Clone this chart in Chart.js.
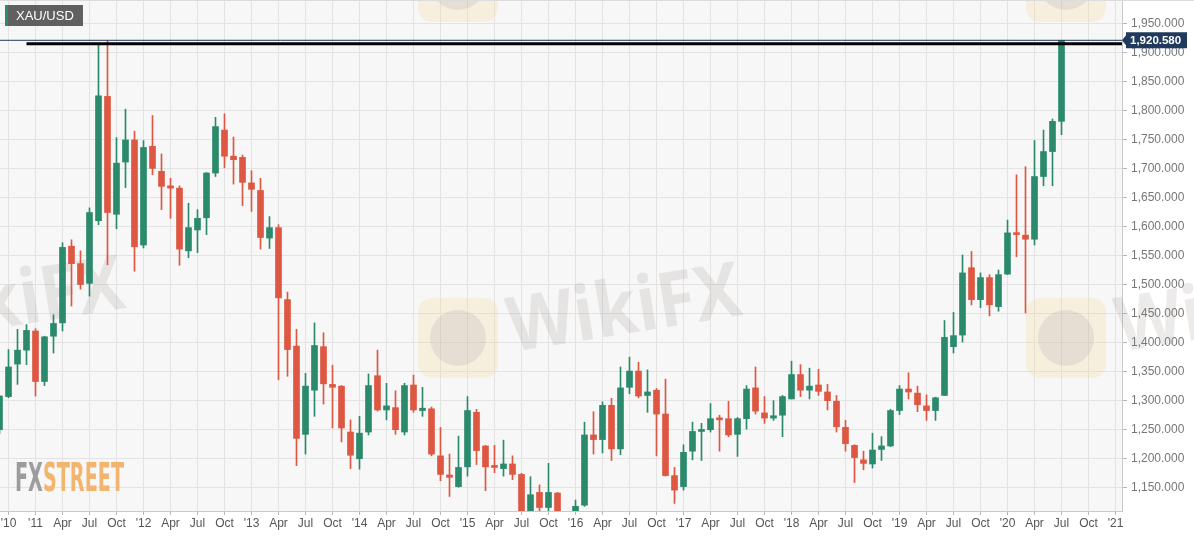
<!DOCTYPE html>
<html>
<head>
<meta charset="utf-8">
<title>XAU/USD monthly</title>
<script src="https://cdn.jsdelivr.net/npm/chart.js@4.4.1/dist/chart.umd.min.js"></script>
<style>
  html, body { margin: 0; padding: 0; background: #fff; }
  #wrap { position: relative; width: 1194px; height: 536px; }
</style>
</head>
<body>
<div id="wrap"><canvas id="chart" width="1194" height="536"></canvas></div>
<script>
/* ── data: monthly XAU/USD candles, Sep 2010 → Jul 2020 ── */
// month index counted from Jan 2011 = 0
const firstMonth = -4;

const opens = [
  1250, 1307, 1363, 1387,
  1420, 1333, 1411, 1434, 1566, 1536, 1502, 1610, 1824, 1621, 1711, 1749,
  1568, 1738, 1695, 1670, 1666, 1558, 1594, 1615, 1692, 1766, 1721, 1719,
  1675, 1662, 1580, 1598, 1474, 1394, 1242, 1318, 1393, 1328, 1325, 1246,
  1200, 1246, 1343, 1284, 1288, 1246, 1327, 1283, 1286, 1205, 1172, 1152,
  1186, 1280, 1222, 1187, 1183, 1191, 1173, 1095, 1142, 1116, 1141, 1065,
  1061, 1120, 1241, 1233, 1292, 1217, 1323, 1351, 1309, 1318, 1277, 1171,
  1152, 1213, 1247, 1250, 1269, 1269, 1242, 1269, 1322, 1279, 1270, 1275,
  1303, 1345, 1318, 1327, 1315, 1299, 1254, 1223, 1198, 1191, 1216, 1222,
  1283, 1320, 1313, 1291, 1283, 1309, 1393, 1413, 1529, 1474, 1512, 1462,
  1518, 1589, 1585, 1578, 1686, 1729, 1781
];
const highs = [
  1309, 1388, 1423, 1431,
  1424, 1411, 1448, 1572, 1577, 1558, 1632, 1912, 1920, 1753, 1802, 1764,
  1748, 1791, 1725, 1683, 1670, 1640, 1629, 1693, 1788, 1794, 1754, 1723,
  1696, 1683, 1617, 1603, 1487, 1423, 1347, 1434, 1417, 1361, 1326, 1267,
  1273, 1346, 1387, 1330, 1317, 1330, 1344, 1323, 1289, 1254, 1208, 1239,
  1307, 1285, 1223, 1223, 1232, 1205, 1175, 1169, 1155, 1192, 1142, 1088,
  1129, 1263, 1281, 1298, 1304, 1358, 1375, 1366, 1353, 1321, 1337, 1185,
  1224, 1263, 1261, 1295, 1275, 1299, 1271, 1326, 1358, 1307, 1300, 1309,
  1368, 1362, 1356, 1354, 1328, 1309, 1266, 1224, 1213, 1244, 1238, 1285,
  1326, 1348, 1325, 1310, 1306, 1438, 1452, 1551, 1557, 1520, 1517, 1525,
  1611, 1689, 1703, 1748, 1766, 1785, 1920.58
];
const lows = [
  1243, 1305, 1328, 1362,
  1308, 1326, 1382, 1420, 1463, 1492, 1480, 1603, 1534, 1596, 1667, 1523,
  1563, 1689, 1629, 1614, 1533, 1546, 1555, 1586, 1686, 1701, 1673, 1636,
  1626, 1561, 1562, 1336, 1342, 1188, 1208, 1273, 1294, 1253, 1229, 1183,
  1182, 1241, 1282, 1267, 1242, 1241, 1280, 1273, 1205, 1162, 1135, 1151,
  1170, 1190, 1145, 1176, 1170, 1164, 1077, 1077, 1098, 1098, 1046, 1046,
  1060, 1118, 1208, 1210, 1197, 1207, 1312, 1305, 1280, 1205, 1170, 1123,
  1146, 1198, 1197, 1246, 1213, 1238, 1204, 1251, 1277, 1261, 1266, 1238,
  1303, 1307, 1303, 1309, 1284, 1246, 1213, 1159, 1181, 1184, 1197, 1221,
  1276, 1303, 1281, 1266, 1266, 1309, 1382, 1401, 1465, 1460, 1446, 1454,
  1517, 1548, 1451, 1568, 1670, 1670, 1758
];
const closes = [
  1308, 1358, 1387, 1421,
  1333, 1410, 1433, 1564, 1536, 1500, 1624, 1825, 1624, 1709, 1749, 1565,
  1736, 1700, 1669, 1666, 1561, 1598, 1614, 1692, 1772, 1721, 1715, 1676,
  1664, 1581, 1598, 1477, 1388, 1235, 1325, 1395, 1329, 1323, 1253, 1206,
  1244, 1326, 1284, 1291, 1250, 1326, 1284, 1287, 1208, 1173, 1168, 1185,
  1283, 1214, 1186, 1185, 1191, 1173, 1095, 1138, 1116, 1142, 1065, 1061,
  1118, 1241, 1233, 1292, 1217, 1322, 1351, 1308, 1315, 1277, 1171, 1146,
  1211, 1247, 1250, 1269, 1267, 1241, 1269, 1320, 1282, 1270, 1274, 1307,
  1345, 1318, 1325, 1316, 1300, 1255, 1226, 1202, 1192, 1215, 1222, 1283,
  1320, 1315, 1293, 1283, 1305, 1409, 1412, 1520, 1474, 1512, 1465, 1517,
  1589, 1586, 1578, 1686, 1729, 1781, 1920.58
];

// x-axis labels, one every 3 months starting Oct 2010
const xTickLabels = [
  "'10",
  "'11", 'Apr', 'Jul', 'Oct', "'12", 'Apr', 'Jul', 'Oct',
  "'13", 'Apr', 'Jul', 'Oct', "'14", 'Apr', 'Jul', 'Oct',
  "'15", 'Apr', 'Jul', 'Oct', "'16", 'Apr', 'Jul', 'Oct',
  "'17", 'Apr', 'Jul', 'Oct', "'18", 'Apr', 'Jul', 'Oct',
  "'19", 'Apr', 'Jul', 'Oct', "'20", 'Apr', 'Jul', 'Oct',
  "'21"
];
const firstTickMonth = -3;

const lastPrice = 1920.58;
const resistanceLevel = 1914.6;
const resistanceFrom = -1;          // Dec 2010

const X_MIN = -3.944, X_MAX = 120.722;
const Y_MIN = 1110, Y_MAX = 1990;

const GREEN = '#2c8a6c';
const RED   = '#de5742';

const months = opens.map((_, i) => firstMonth + i);
const candleColor = ctx => closes[ctx.dataIndex] >= opens[ctx.dataIndex] ? GREEN : RED;

/* ── decorations ── */
function roundRect(ctx, x, y, w, h, r) {
  ctx.beginPath();
  ctx.moveTo(x + r, y);
  ctx.arcTo(x + w, y, x + w, y + h, r);
  ctx.arcTo(x + w, y + h, x, y + h, r);
  ctx.arcTo(x, y + h, x, y, r);
  ctx.arcTo(x, y, x + w, y, r);
  ctx.closePath();
}

function wikiLogo(ctx, cx, cy) {
  ctx.save();
  ctx.fillStyle = 'rgba(245,215,130,0.22)';
  roundRect(ctx, cx - 40, cy - 40, 80, 80, 14);
  ctx.fill();
  ctx.fillStyle = 'rgba(150,135,155,0.16)';
  ctx.beginPath();
  ctx.arc(cx, cy, 28, 0, Math.PI * 2);
  ctx.fill();
  ctx.restore();
}

function wikiText(ctx, x, y) {
  ctx.save();
  ctx.translate(x, y);
  ctx.rotate(-0.16);
  ctx.font = 'bold 76px "Open Sans", sans-serif';
  const w = ctx.measureText('WikiFX').width;
  ctx.scale(235 / w, 1);
  ctx.fillStyle = 'rgba(150,130,130,0.17)';
  ctx.textBaseline = 'alphabetic';
  ctx.fillText('WikiFX', 0, 0);
  ctx.restore();
}

const chrome = {
  id: 'chrome',
  beforeDraw(chart) {
    const { ctx, chartArea: a } = chart;
    ctx.save();
    ctx.fillStyle = '#ffffff';
    ctx.fillRect(0, 0, chart.width, chart.height);
    ctx.fillStyle = '#f7f7f7';
    ctx.fillRect(a.left, a.top, a.right - a.left, a.bottom - a.top);
    ctx.restore();
  },
  beforeDatasetsDraw(chart) {
    const { ctx } = chart;
    ctx.save();
    wikiLogo(ctx, 458, -18);
    wikiLogo(ctx, 1066, -18);
    wikiLogo(ctx, 458, 338);
    wikiLogo(ctx, 1066, 338);
    wikiText(ctx, -105, 345);
    wikiText(ctx, 512, 352);
    wikiText(ctx, 1120, 352);
    ctx.restore();
  },
  afterDraw(chart) {
    const { ctx } = chart;
    const y = chart.scales.y.getPixelForValue(lastPrice);
    const ax = chart.chartArea.right;
    ctx.save();

    // last price tag
    ctx.fillStyle = '#1f3a5c';
    ctx.beginPath();
    ctx.moveTo(ax, y);
    ctx.lineTo(ax + 4, y - 5);
    ctx.lineTo(ax + 4, y - 8);
    ctx.lineTo(ax + 65, y - 8);
    ctx.lineTo(ax + 65, y + 8);
    ctx.lineTo(ax + 4, y + 8);
    ctx.lineTo(ax + 4, y + 5);
    ctx.closePath();
    ctx.fill();
    ctx.fillStyle = '#ffffff';
    ctx.font = 'bold 11.5px "Liberation Sans", Arial, sans-serif';
    ctx.textBaseline = 'middle';
    ctx.textAlign = 'left';
    ctx.fillText(lastPrice.toLocaleString('en-US', { minimumFractionDigits: 3 }), ax + 8, y + 0.5);

    // symbol badge
    ctx.fillStyle = '#606060';
    ctx.fillRect(5, 5, 78, 21);
    ctx.fillStyle = GREEN;
    ctx.fillRect(5, 5, 3, 21);
    ctx.fillStyle = '#ffffff';
    ctx.font = '13px "Liberation Sans", Arial, sans-serif';
    ctx.fillText('XAU/USD', 16, 16);

    // FXSTREET mark
    ctx.font = 'bold 39px "DejaVu Sans Condensed", "DejaVu Sans", sans-serif';
    ctx.textBaseline = 'alphabetic';
    const wFx = ctx.measureText('FX').width;
    const wAll = ctx.measureText('FXSTREET').width;
    ctx.translate(15, 491);
    ctx.scale(109 / wAll, 1);
    ctx.fillStyle = '#9c9c9c';
    ctx.fillText('FX', 0, 0);
    ctx.fillStyle = '#f2b56f';
    ctx.fillText('STREET', wFx, 0);
    ctx.restore();

    // thin frame on top
    ctx.save();
    ctx.strokeStyle = '#dcdcdc';
    ctx.lineWidth = 1;
    ctx.beginPath();
    ctx.moveTo(0, 0.5);
    ctx.lineTo(chart.width, 0.5);
    ctx.stroke();
    ctx.restore();
  }
};

const font12 = { family: '"Liberation Sans", Arial, sans-serif', size: 12 };

new Chart(document.getElementById('chart'), {
  type: 'bar',
  data: {
    datasets: [
      {
        type: 'line',
        data: [{ x: X_MIN, y: lastPrice }, { x: X_MAX, y: lastPrice }],
        borderColor: '#1f3a5c', borderWidth: 1, pointRadius: 0, order: 1
      },
      {
        type: 'line',
        data: [{ x: resistanceFrom, y: resistanceLevel }, { x: X_MAX, y: resistanceLevel }],
        borderColor: '#000000', borderWidth: 3, pointRadius: 0, order: 0
      },
      {
        data: months.map((m, i) => ({ x: m, y: [lows[i], highs[i]] })),
        backgroundColor: candleColor, barThickness: 1, grouped: false, order: 3
      },
      {
        data: months.map((m, i) => ({ x: m, y: [opens[i], closes[i]] })),
        backgroundColor: candleColor, barThickness: 6, minBarLength: 2, grouped: false, order: 2
      }
    ]
  },
  options: {
    responsive: false,
    devicePixelRatio: 1,
    animation: false,
    layout: { padding: 0, autoPadding: false },
    plugins: { legend: { display: false }, tooltip: { enabled: false } },
    scales: {
      x: {
        type: 'linear', min: X_MIN, max: X_MAX, offset: false,
        grid: { color: '#e3e3e3', offset: false, tickLength: 4, tickColor: '#b8b8b8' },
        border: { color: '#c9c9c9' },
        afterBuildTicks: s => { s.ticks = xTickLabels.map((_, i) => ({ value: firstTickMonth + 3 * i })); },
        afterFit: s => { s.height = 25; s.paddingLeft = 0; s.paddingRight = 0; },
        ticks: { autoSkip: false, maxRotation: 0, color: '#555', font: font12, padding: 1,
                 callback: (v, i) => xTickLabels[i] }
      },
      y: {
        position: 'right', min: Y_MIN, max: Y_MAX,
        grid: { color: '#e3e3e3', tickLength: 5, tickColor: '#b8b8b8' },
        border: { color: '#c9c9c9' },
        afterFit: s => { s.width = 72; s.paddingTop = 0; s.paddingBottom = 0; },
        ticks: { stepSize: 50, includeBounds: false, color: '#777', font: font12, padding: 4,
                 callback: v => v.toLocaleString('en-US', { minimumFractionDigits: 3, maximumFractionDigits: 3 }) }
      }
    }
  },
  plugins: [chrome]
});
</script>
</body>
</html>
